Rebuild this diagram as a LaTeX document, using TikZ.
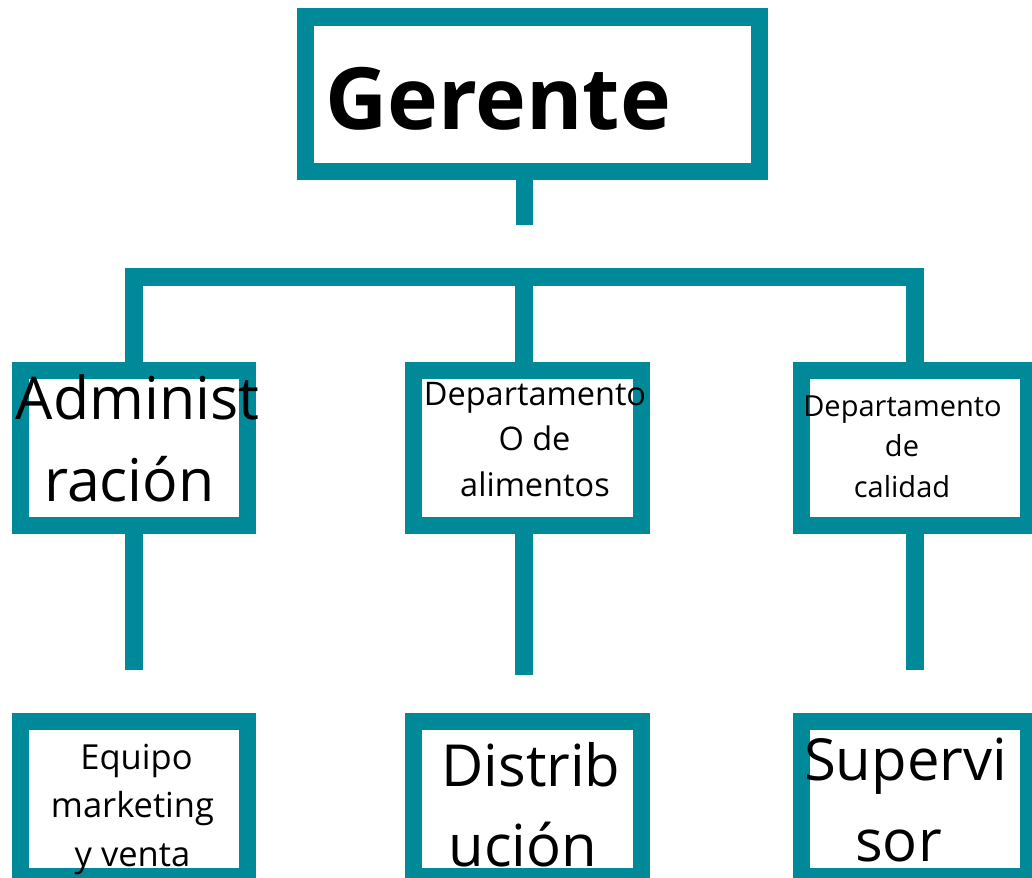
\documentclass[tikz,border=0pt]{standalone}
\usepackage{fontspec}
\setmainfont{Open Sans}
\definecolor{teal1}{RGB}{0,137,153}
\begin{document}
\begin{tikzpicture}[x=1pt,y=-1pt,
  box/.style={draw=teal1,line width=17.5pt,fill=white,rectangle,inner sep=0pt,outer sep=0pt,minimum height=155pt},
  conn/.style={draw=teal1,line width=18pt,line join=miter,line cap=butt},
  txt/.style={anchor=base,inner sep=0pt,text=black}]
\useasboundingbox (0,0) rectangle (1032,877);
% boxes
\coordinate (bar) at (0,276.5);
\node[box,minimum width=454pt,minimum height=154.5pt] (g) at (532.5,94.25) {};
\node[box,minimum width=227pt] (b1) at (134,448) {};
\node[box,minimum width=228pt] (b2) at (527.5,448) {};
\node[box,minimum width=227.5pt] (b3) at (915,448) {};
\node[box,minimum width=227pt] (c1) at (134,799) {};
\node[box,minimum width=228pt] (c2) at (527.5,799) {};
\node[box,minimum width=227.5pt] (c3) at (915,799) {};
% connectors
\coordinate (gs) at (524.5,225);
\draw[conn,line width=17pt] ([xshift=-8pt]g.south) -- (gs);
\draw[conn] (b1.north) -- (b1.north |- bar) -- (b3.north |- bar) -- (b3.north);
\draw[conn] ([xshift=-3.5pt]b2.north) -- ([xshift=-3.5pt]b2.north |- bar);
\coordinate (e1) at (134,670);
\coordinate (e2) at (524,675);
\coordinate (e3) at (915,670);
\draw[conn] (b1.south) -- (e1);
\draw[conn] ([xshift=-3.5pt]b2.south) -- (e2);
\draw[conn] (b3.south) -- (e3);
% texts
\node[txt,anchor=base west,font=\fontsize{86}{100}\selectfont\bfseries] (tg) at (325,130) {Gerente};
\node[txt,font=\fontsize{59}{70}\selectfont] (t11) at (137.5,419) {Administ};
\node[txt,font=\fontsize{59}{70}\selectfont] (t12) at (129.5,501) {ración};
\node[txt,font=\fontsize{32.5}{36}\selectfont] (t21) at (535,405.7) {Departamento};
\node[txt,font=\fontsize{32.5}{36}\selectfont] (t22) at (534.5,450.7) {O de};
\node[txt,font=\fontsize{32.5}{36}\selectfont] (t23) at (535,496) {alimentos};
\node[txt,font=\fontsize{29}{32}\selectfont] (t31) at (902.5,416.7) {Departamento};
\node[txt,font=\fontsize{29}{32}\selectfont] (t32) at (902,456.7) {de};
\node[txt,font=\fontsize{29}{32}\selectfont] (t33) at (902,497.3) {calidad};
\node[txt,font=\fontsize{34.5}{36}\selectfont] (u11) at (136.5,769.3) {Equipo};
\node[txt,font=\fontsize{34.5}{36}\selectfont] (u12) at (132.5,817.7) {marketing};
\node[txt,font=\fontsize{34.5}{36}\selectfont] (u13) at (132.5,866.7) {y venta};
\node[txt,font=\fontsize{58}{66}\selectfont] (u21) at (531,786) {Distrib};
\node[txt,font=\fontsize{58}{66}\selectfont] (u22) at (523,866) {ución};
\node[txt,font=\fontsize{58}{70}\selectfont] (u31) at (905.5,780) {Supervi};
\node[txt,font=\fontsize{58}{70}\selectfont] (u32) at (898.5,861) {sor};
\end{tikzpicture}
\end{document}
